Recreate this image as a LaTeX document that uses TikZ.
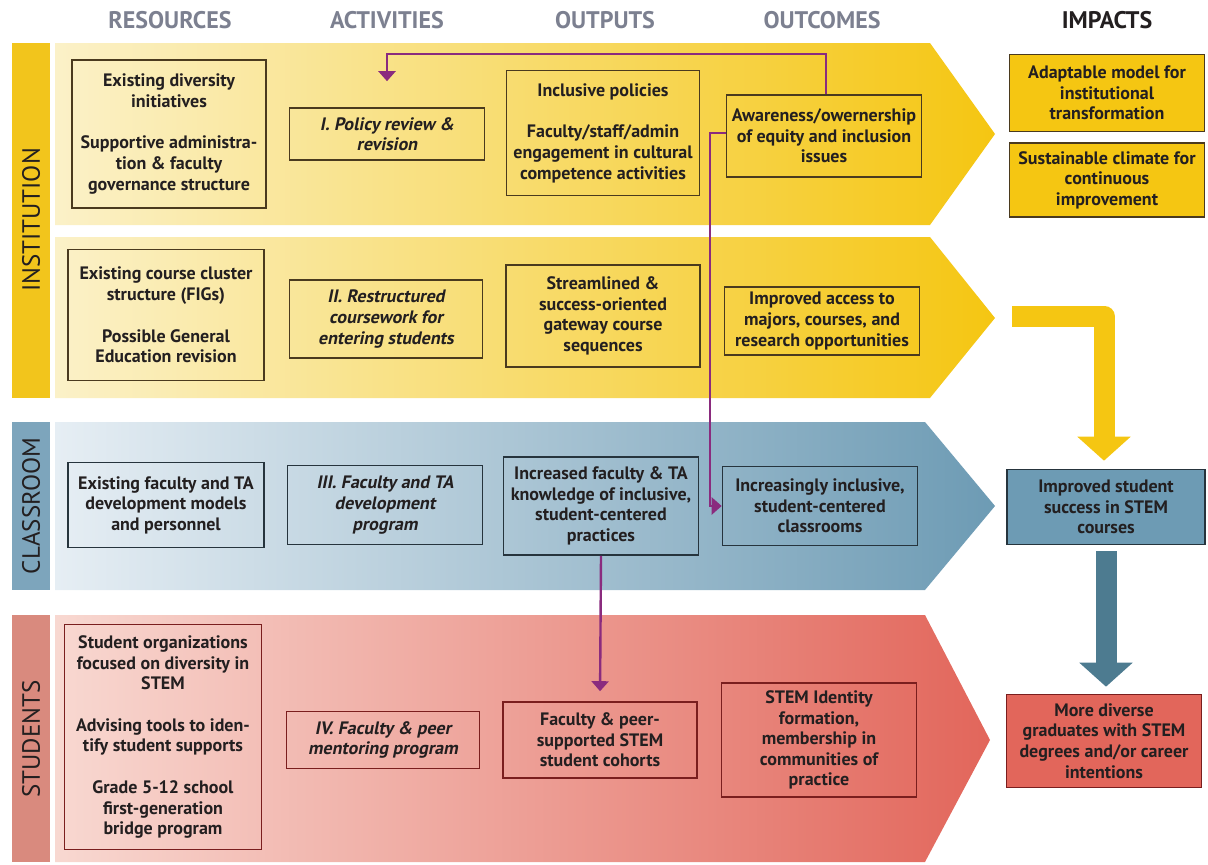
\documentclass[tikz,border=0pt]{standalone}
\usepackage{fontspec}
\setmainfont{PT Sans}
\newfontfamily\slantfont{PT Sans}[FakeSlant=0.2]
\usetikzlibrary{positioning,arrows.meta,calc}

\definecolor{ysat}{HTML}{F5C612}
\definecolor{ypale}{HTML}{FBF1C8}
\definecolor{ystrip}{HTML}{F2C51C}
\definecolor{bsat}{HTML}{6D9BB4}
\definecolor{bpale}{HTML}{E6EEF4}
\definecolor{bstrip}{HTML}{7DA5BC}
\definecolor{rsat}{HTML}{E2665B}
\definecolor{rpale}{HTML}{F8D8D1}
\definecolor{rstrip}{HTML}{D98A7E}
\definecolor{ybord}{HTML}{4A3A1E}
\definecolor{bbord}{HTML}{26343D}
\definecolor{rbord}{HTML}{7A1E1E}
\definecolor{plum}{HTML}{8A2B7E}
\definecolor{steel}{HTML}{4D7B90}
\definecolor{headgray}{HTML}{7C8090}
\definecolor{ink}{HTML}{231F20}

\newcommand{\boxfont}{\fontsize{18}{20.6}\selectfont\bfseries}
\newcommand{\gap}{\\[21pt]}

\tikzset{
  box/.style={draw, line width=1.6pt, align=center, inner sep=2pt, text=ink, font=\boxfont},
  ybox/.style={box, draw=ybord},
  bbox/.style={box, draw=bbord},
  rbox/.style={box, draw=rbord},
  sz/.style 2 args={minimum width=#1pt, minimum height=#2pt},
  act/.style={font=\slantfont\boxfont},
  head/.style={font=\fontsize{24}{28}\selectfont\bfseries, text=headgray},
  strip/.style={font=\fontsize{25}{28}\selectfont, text=ink, rotate=90},
  conn/.style={draw=plum, line width=2.4pt, -{Triangle[width=17pt,length=10pt]}},
  bigarrow/.style={line width=21pt, -{Triangle[width=52pt,length=24pt]}}
}

\begin{document}
\begin{tikzpicture}[x=1pt,y=-1pt]
    \useasboundingbox (0,0) rectangle (1208,865);

    % Column heads
    \node[head] (hres) at (170,20) {RESOURCES};
    \node[head] (hact) at (387,20) {ACTIVITIES};
    \node[head] (hout) at (605,20) {OUTPUTS};
    \node[head] (hoc) at (822,20) {OUTCOMES};
    \node[head, text=ink] (himp) at (1107,20) {IMPACTS};

    % Bands
    \fill[ystrip] (12,43) rectangle (50,398);
    \fill[bstrip] (12,422) rectangle (50,590);
    \fill[rstrip] (12,615) rectangle (50,862);
    \shade[left color=ypale, right color=ysat] (55,43) -- (930,43) -- (995,134) -- (930,225) -- (55,225) -- cycle;
    \shade[left color=ypale, right color=ysat] (55,237) -- (930,237) -- (995,318) -- (930,398) -- (55,398) -- cycle;
    \shade[left color=bpale, right color=bsat] (55,422) -- (925,422) -- (995,506) -- (925,590) -- (55,590) -- cycle;
    \shade[left color=rpale, right color=rsat] (55,615) -- (925,615) -- (990,740) -- (925,862) -- (55,862) -- cycle;
    \node[strip] (sinst) at (31,220) {INSTITUTION};
    \node[strip] (sclass) at (31,506) {CLASSROOM};
    \node[strip] (sstud) at (31,739) {STUDENTS};

    % Institution
    \node[ybox, sz={194}{148}] (res1) at (169,134) {Existing diversity\\initiatives\gap Supportive administra-\\tion \& faculty\\governance structure};
    \node[ybox, act, sz={195}{52}] (act1) at (387,134) {I. Policy review \&\\revision};
    \node[ybox, sz={193}{125}] (out1) at (603,133) {Inclusive policies\gap Faculty/staff/admin\\engagement in cultural\\competence activities};
    \node[ybox, sz={195}{82}] (oc1) at (824,136) {Awareness/owernership\\of equity and inclusion\\issues};
    \node[ybox, fill=ysat, sz={195}{77}] (imp1) at (1107,93) {Adaptable model for\\institutional\\transformation};
    \node[ybox, fill=ysat, sz={195}{74}, below=10pt of imp1] (imp2) {Sustainable climate for\\continuous\\improvement};

    \node[ybox, sz={196}{131}] (res2) at (166,315) {Existing course cluster\\structure (FIGs)\gap Possible General\\Education revision};
    \node[ybox, act, sz={193}{78}] (act2) at (386,319) {II. Restructured\\coursework for\\entering students};
    \node[ybox, sz={194}{102}] (out2) at (603,316) {Streamlined \&\\success-oriented\\gateway course\\sequences};
    \node[ybox, sz={195}{68}] (oc2) at (822,321) {Improved access to\\majors, courses, and\\research opportunities};

    % Classroom
    \node[bbox, sz={196}{85}] (res3) at (166,505) {Existing faculty and TA\\development models\\and personnel};
    \node[bbox, act, sz={195}{79}] (act3) at (385,505) {III. Faculty and TA\\development\\program};
    \node[bbox, sz={195}{98}] (out3) at (601,506) {Increased faculty \& TA\\knowledge of inclusive,\\student-centered\\practices};
    \node[bbox, sz={195}{79}] (oc3) at (820,506) {Increasingly inclusive,\\student-centered\\classrooms};
    \node[bbox, fill=bsat, sz={198}{75}] (imp3) at (1106,507) {Improved student\\success in STEM\\courses};

    % Students
    \node[rbox, sz={197}{225}] (res4) at (163,737) {Student organizations\\focused on diversity in\\STEM\gap Advising tools to iden-\\tify student supports\gap Grade 5-12 school\\first-generation\\bridge program};
    \node[rbox, act, sz={193}{57}] (act4) at (383,740) {IV. Faculty \& peer\\mentoring program};
    \node[rbox, sz={194}{76}] (out4) at (600,740) {Faculty \& peer-\\supported STEM\\student cohorts};
    \node[rbox, sz={195}{114}] (oc4) at (819,740) {STEM Identity\\formation,\\membership in\\communities of\\practice};
    \node[rbox, fill=rsat, sz={195}{93}] (imp4) at (1104,741) {More diverse\\graduates with STEM\\degrees and/or career\\intentions};

    % Feedback links
    \draw[conn, shorten >=26pt] ([xshift=2pt]oc1.north) -- ++(0,-40) -| (act1.north);
    \draw[conn] ([yshift=3pt]oc1.west) -- ++(-16,0) |- (oc3.west);
    \draw[conn, shorten >=10pt] (out3.south) -- (out4.north);

    % Impact arrows
    \coordinate (ystart) at (1012,316);
    \draw[bigarrow, draw=ysat, line join=round] (ystart) -| ([xshift=-2pt,yshift=8pt]imp3.north);
    \draw[bigarrow, draw=steel] ([yshift=-6pt]imp3.south) -- ([yshift=7pt]imp3.south |- imp4.north);
\end{tikzpicture}
\end{document}
